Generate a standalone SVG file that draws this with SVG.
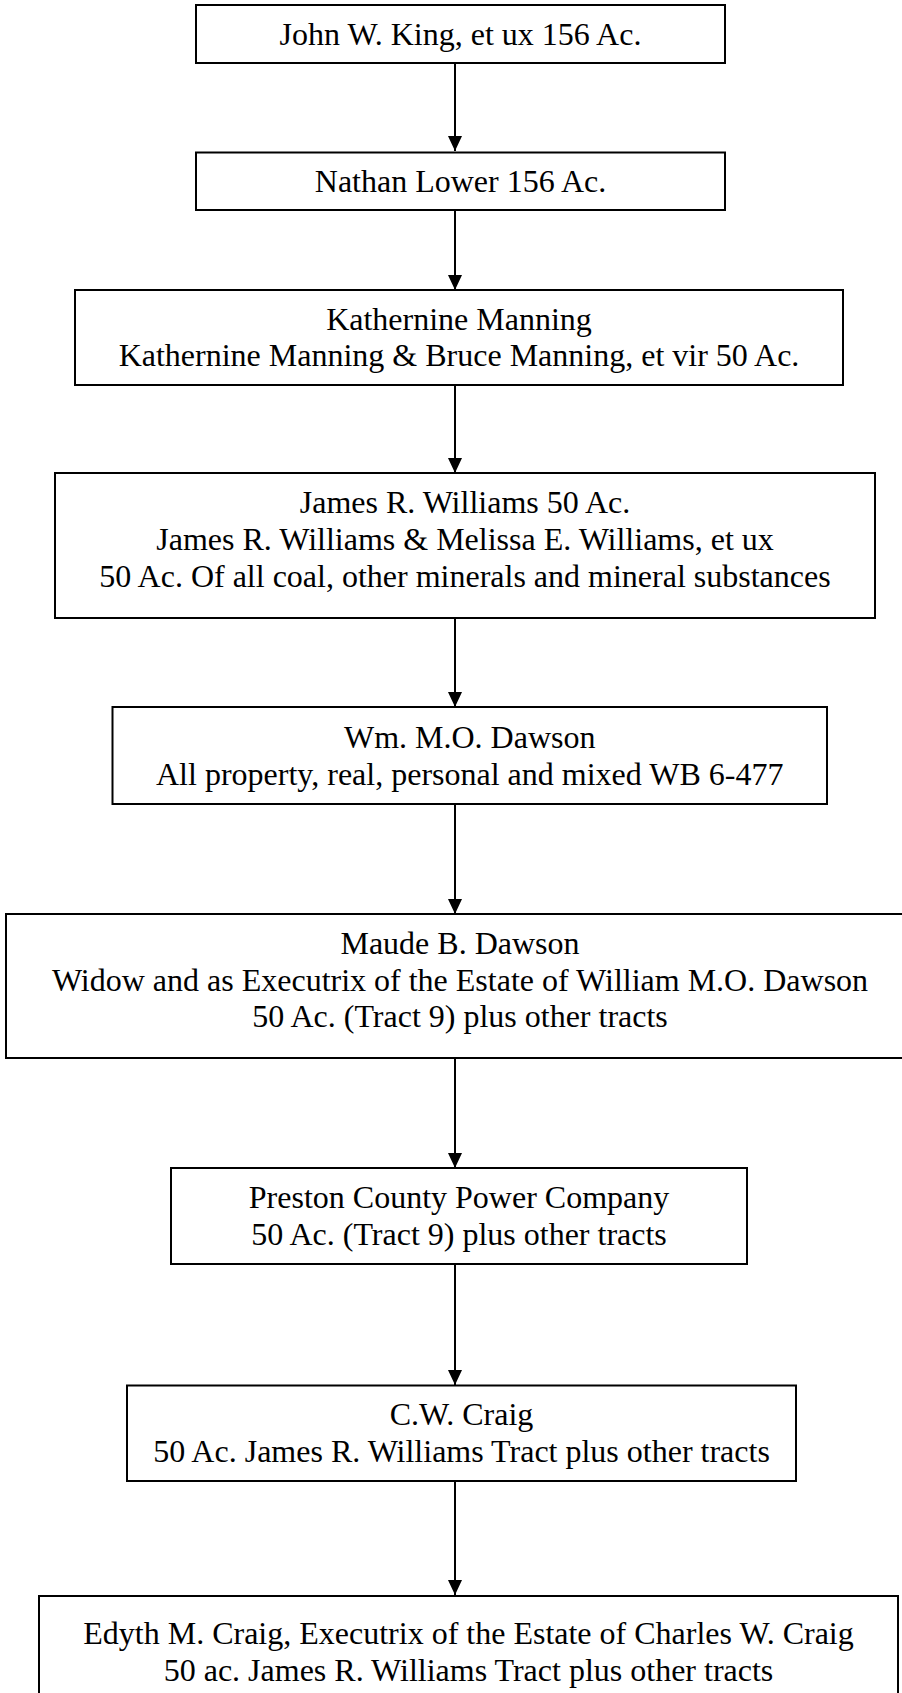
<svg xmlns="http://www.w3.org/2000/svg" width="902" height="1693" viewBox="0 0 902 1693">
  <style>
    .box { fill: #ffffff; stroke: #000000; stroke-width: 2; }
    .lbl { font-family: "Liberation Serif", "Times New Roman", serif; font-size: 32px; fill: #000000; text-anchor: middle; }
    .edge { stroke: #000000; stroke-width: 2; fill: none; marker-end: url(#arrow); }
  </style>
  <defs>
    <marker id="arrow" markerUnits="userSpaceOnUse" markerWidth="16" markerHeight="16" viewBox="0 0 16 16" refX="15" refY="8" orient="auto">
      <path d="M0,1 L15,8 L0,15 Z" fill="#000000"/>
    </marker>
  </defs>
  <rect width="902" height="1693" fill="#ffffff"/>

  <!-- chain of title connectors -->
  <g id="connectors">
    <line class="edge" x1="455" y1="63" x2="455" y2="151"/>
    <line class="edge" x1="455" y1="210" x2="455" y2="290"/>
    <line class="edge" x1="455" y1="385" x2="455" y2="473"/>
    <line class="edge" x1="455" y1="618" x2="455" y2="707"/>
    <line class="edge" x1="455" y1="804" x2="455" y2="914"/>
    <line class="edge" x1="455" y1="1058" x2="455" y2="1168"/>
    <line class="edge" x1="455" y1="1264" x2="455" y2="1385"/>
    <line class="edge" x1="455" y1="1481" x2="455" y2="1595"/>
  </g>

  <g id="king">
    <rect class="box" x="196" y="5" width="529" height="58"/>
    <text class="lbl" x="460.5" y="45">John W. King, et ux 156 Ac.</text>
  </g>

  <g id="lower">
    <rect class="box" x="196" y="152.5" width="529" height="57.5"/>
    <text class="lbl" x="460.5" y="192">Nathan Lower 156 Ac.</text>
  </g>

  <g id="manning">
    <rect class="box" x="75" y="290" width="768" height="95"/>
    <text class="lbl" x="459" y="330">Kathernine Manning</text>
    <text class="lbl" x="459" y="366">Kathernine Manning &amp; Bruce Manning, et vir 50 Ac.</text>
  </g>

  <g id="williams">
    <rect class="box" x="55" y="473" width="820" height="145"/>
    <text class="lbl" x="465" y="513">James R. Williams 50 Ac.</text>
    <text class="lbl" x="465" y="550">James R. Williams &amp; Melissa E. Williams, et ux</text>
    <text class="lbl" x="465" y="587">50 Ac. Of all coal, other minerals and mineral substances</text>
  </g>

  <g id="wm-dawson">
    <rect class="box" x="112.5" y="707" width="714.5" height="97"/>
    <text class="lbl" x="469.7" y="748">Wm. M.O. Dawson</text>
    <text class="lbl" x="469.7" y="785">All property, real, personal and mixed WB 6-477</text>
  </g>

  <g id="maude-dawson">
    <rect class="box" x="6" y="914" width="910" height="144"/>
    <text class="lbl" x="460" y="954">Maude B. Dawson</text>
    <text class="lbl" x="460" y="991">Widow and as Executrix of the Estate of William M.O. Dawson</text>
    <text class="lbl" x="460" y="1027">50 Ac. (Tract 9) plus other tracts</text>
  </g>

  <g id="preston-power">
    <rect class="box" x="171" y="1168" width="576" height="96"/>
    <text class="lbl" x="459" y="1208">Preston County Power Company</text>
    <text class="lbl" x="459" y="1245">50 Ac. (Tract 9) plus other tracts</text>
  </g>

  <g id="cw-craig">
    <rect class="box" x="127" y="1385.5" width="669" height="95.5"/>
    <text class="lbl" x="461.5" y="1425">C.W. Craig</text>
    <text class="lbl" x="461.5" y="1462">50 Ac. James R. Williams Tract plus other tracts</text>
  </g>

  <g id="edyth-craig">
    <rect class="box" x="39" y="1596" width="859" height="130"/>
    <text class="lbl" x="468.5" y="1644">Edyth M. Craig, Executrix of the Estate of Charles W. Craig</text>
    <text class="lbl" x="468.5" y="1681">50 ac. James R. Williams Tract plus other tracts</text>
  </g>
</svg>
